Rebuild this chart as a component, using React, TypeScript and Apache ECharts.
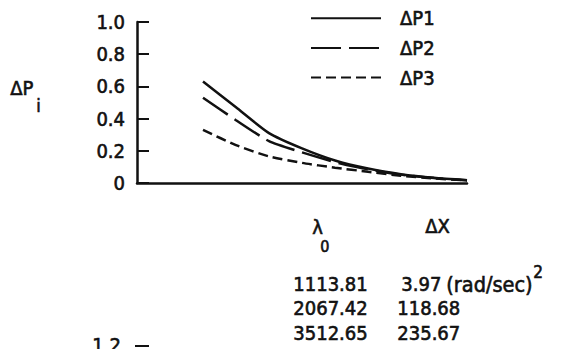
import React, { useEffect, useRef } from "react";
import * as echarts from "echarts";

const xValues = [2, 3, 4, 5, 6, 7, 8, 9, 10];
const dP1 = [0.63, 0.47, 0.31, 0.215, 0.14, 0.09, 0.055, 0.032, 0.017];
const dP2 = [0.53, 0.39, 0.26, 0.19, 0.13, 0.085, 0.052, 0.031, 0.017];
const dP3 = [0.33, 0.235, 0.165, 0.125, 0.095, 0.07, 0.045, 0.028, 0.016];
const seriesNames = ["ΔP1", "ΔP2", "ΔP3"];
const yTickLabels = ["0", "0.2", "0.4", "0.6", "0.8", "1.0"];
const lambda0 = ["1113.81", "2067.42", "3512.65"];
const deltaX = ["3.97", "118.68", "235.67"];
const unitText = "(rad/sec)";

const FONT = "'DejaVu Sans Condensed', 'Liberation Sans Narrow', sans-serif";
const INK = "#111";

export default function App() {
  const ref = useRef<HTMLDivElement>(null);
  useEffect(() => {
    document.body.style.margin = "0";
    if (!ref.current) return;
    const chart = echarts.init(ref.current, undefined, { renderer: "svg" });
    const mk = (d: number[]) => xValues.map((x, i) => [x, d[i]]);
    const txt = { fill: INK, fontFamily: FONT, fontSize: 20, stroke: INK, lineWidth: 0.6 };
    const rowY = [285, 309, 334];
    const graphics: any[] = [
      { type: "text", left: 10, top: 78, style: { ...txt, text: "ΔP" } },
      { type: "text", left: 36, top: 96, style: { ...txt, fontSize: 18, text: "i" } },
      { type: "text", left: 312, top: 217, style: { ...txt, text: "λ" } },
      { type: "text", left: 320, top: 238, style: { ...txt, fontSize: 16, text: "0" } },
      { type: "text", left: 425, top: 216, style: { ...txt, text: "ΔX" } },
      { type: "text", left: 92, top: 335, style: { ...txt, text: "1.2" } },
      { type: "line", shape: { x1: 135, y1: 346, x2: 149, y2: 346 }, style: { stroke: INK, lineWidth: 2 } },
    ];
    lambda0.forEach((v, i) => {
      graphics.push({ type: "text", left: 293, top: rowY[i] - 11, style: { ...txt, text: v } });
    });
    deltaX.forEach((v, i) => {
      graphics.push({ type: "text", left: i === 0 ? 401 : 397, top: rowY[i] - 11, style: { ...txt, text: v } });
    });
    graphics.push({ type: "text", left: 446, top: rowY[0] - 12, style: { ...txt, fontSize: 21.5, text: unitText } });
    graphics.push({ type: "text", left: 533, top: 263, style: { ...txt, fontSize: 17, text: "2" } });

    chart.setOption({
      animation: false,
      backgroundColor: "#fff",
      grid: { left: 137, right: 96, top: 22, bottom: 166 },
      legend: {
        orient: "vertical",
        left: 305,
        top: 3,
        itemWidth: 70,
        itemHeight: 18,
        itemGap: 9,
        itemStyle: { opacity: 0 },
        textStyle: {
          color: INK,
          fontFamily: FONT,
          fontSize: 20,
          textBorderColor: INK,
          textBorderWidth: 0.6,
          padding: [0, 0, 0, 14],
        },
        data: seriesNames,
      },
      xAxis: {
        type: "value",
        min: 0,
        max: 10,
        axisLine: { lineStyle: { color: INK, width: 2.5 } },
        axisTick: { show: false },
        axisLabel: { show: false },
        splitLine: { show: false },
      },
      yAxis: {
        type: "value",
        min: 0,
        max: 1,
        interval: 0.2,
        axisLine: { show: true, lineStyle: { color: INK, width: 2.5 } },
        axisTick: { show: true, inside: true, length: 12, lineStyle: { color: INK, width: 2 } },
        axisLabel: {
          margin: 12,
          fontFamily: FONT,
          fontSize: 20,
          color: INK,
          textBorderColor: INK,
          textBorderWidth: 0.6,
          formatter: (v: number) => yTickLabels[Math.round(v / 0.2)],
        },
        splitLine: { show: false },
      },
      series: [
        { name: seriesNames[0], type: "line", data: mk(dP1), symbol: "none", smooth: 0.2, lineStyle: { color: INK, width: 2.5, type: "solid" } },
        { name: seriesNames[1], type: "line", data: mk(dP2), symbol: "none", smooth: 0.2, lineStyle: { color: INK, width: 2.5, type: [30, 8] } },
        { name: seriesNames[2], type: "line", data: mk(dP3), symbol: "none", smooth: 0.2, lineStyle: { color: INK, width: 2.5, type: [10, 5] } },
      ],
      graphic: graphics,
    });
    return () => chart.dispose();
  }, []);
  return <div ref={ref} style={{ width: 563, height: 349 }} />;
}
